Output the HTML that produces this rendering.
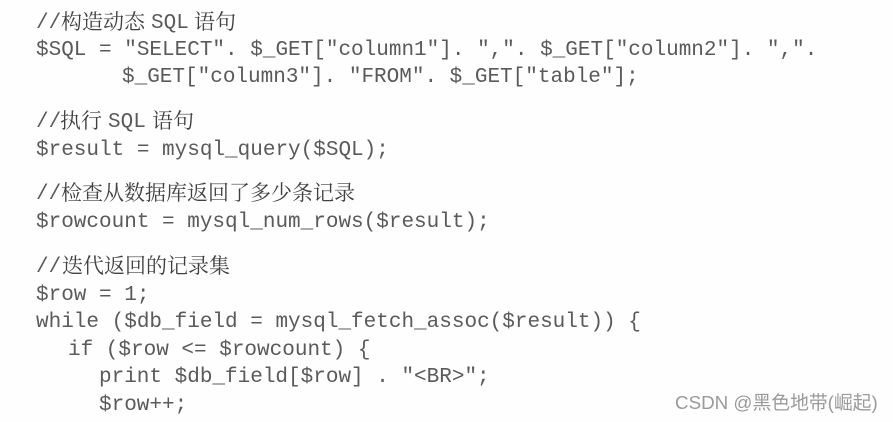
<!DOCTYPE html>
<html>
<head>
<meta charset="utf-8">
<style>
html,body{margin:0;padding:0;width:893px;height:422px;overflow:hidden;background:#fefefe}
svg{display:block;position:absolute;left:0;top:0}
.c{font-family:"Liberation Mono",monospace;font-size:21px;fill:#5a5a5a;white-space:pre;filter:blur(0.3px)}
.z{font-family:"Noto Serif CJK SC","Liberation Serif",serif;font-size:21px;fill:#404040;white-space:pre;filter:blur(0.3px)}
.w{font-family:"Liberation Sans","Noto Sans CJK SC",sans-serif;font-size:18.8px;fill:#9a9a9a}
</style>
</head>
<body>
<svg width="893" height="422" viewBox="0 0 893 422" xmlns="http://www.w3.org/2000/svg">
<text class="c" x="36" y="28">//</text><text class="z" x="61" y="29">构造动态</text><text class="c" x="151" y="28">SQL</text><text class="z" x="194" y="29">语句</text>
<text class="c" x="36" y="55">$SQL = "SELECT". $_GET["column1"]. ",". $_GET["column2"]. ",".</text>
<text class="c" x="122" y="82">$_GET["column3"]. "FROM". $_GET["table"];</text>
<text class="c" x="36" y="127">//</text><text class="z" x="60" y="128">执行</text><text class="c" x="108" y="127">SQL</text><text class="z" x="152" y="128">语句</text>
<text class="c" x="36" y="155">$result = mysql_query($SQL);</text>
<text class="c" x="36" y="199">//</text><text class="z" x="61" y="200">检查从数据库返回了多少条记录</text>
<text class="c" x="36" y="227">$rowcount = mysql_num_rows($result);</text>
<text class="c" x="36" y="272">//</text><text class="z" x="62" y="273">迭代返回的记录集</text>
<text class="c" x="36" y="300">$row = 1;</text>
<text class="c" x="36" y="327">while ($db_field = mysql_fetch_assoc($result)) {</text>
<text class="c" x="68" y="355">if ($row &lt;= $rowcount) {</text>
<text class="c" x="99" y="382">print $db_field[$row] . "&lt;BR&gt;";</text>
<text class="c" x="99" y="410">$row++;</text>
<text class="w" x="675" y="409">CSDN @黑色地带(崛起)</text>
</svg>
</body>
</html>
